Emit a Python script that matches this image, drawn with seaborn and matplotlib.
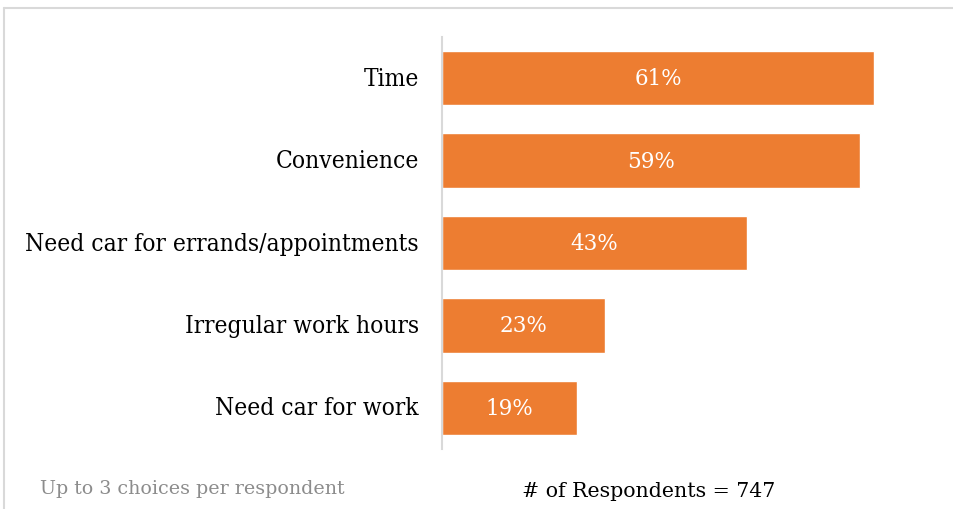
import matplotlib
matplotlib.use("Agg")
import matplotlib.pyplot as plt
import seaborn as sns
import pandas as pd
from matplotlib.lines import Line2D

reasons = ["Time", "Convenience", "Need car for errands/appointments",
           "Irregular work hours", "Need car for work"]
shares = [61, 59, 43, 23, 19]
bar_labels = ["61%", "59%", "43%", "23%", "19%"]

df = pd.DataFrame({"reason": reasons, "share": shares})

sns.set_theme(style="white")
plt.rcParams["font.family"] = ["DejaVu Serif", "DejaVu Sans"]

fig = plt.figure(figsize=(9.54, 5.10), dpi=100)
ax = fig.add_axes([0.4633, 0.1176, 0.5367, 0.8078])

sns.barplot(data=df, y="reason", x="share", color="#ED7D31", saturation=1,
            width=0.66, ax=ax, orient="h")

ax.set_xlim(0, 72.3)
ax.set_ylim(4.5, -0.5)
ax.set_xlabel("")
ax.set_ylabel("")
ax.set_xticks([])
ax.tick_params(axis="y", length=0, pad=16.5, labelsize=17.6, labelcolor="black")
for lbl in ax.get_yticklabels():
    lbl.set_fontstretch("condensed")
    lbl.set_verticalalignment("center")

for side in ["top", "right", "bottom"]:
    ax.spines[side].set_visible(False)
ax.spines["left"].set_color("#D9D9D9")
ax.spines["left"].set_linewidth(1.5)

for i, (v, t) in enumerate(zip(shares, bar_labels)):
    ax.text(v / 2, i, t, ha="center", va="center", color="white", fontsize=15.5)

# frame lines at top and left
fig.add_artist(Line2D([4 / 954, 1], [1 - 9 / 510, 1 - 9 / 510], color="#D9D9D9", lw=1.5))
fig.add_artist(Line2D([4 / 954, 4 / 954], [0, 1 - 9 / 510], color="#D9D9D9", lw=1.5))

fig.text(40 / 954, 1 - 489 / 510, "Up to 3 choices per respondent", color="#8C8C8C",
         fontsize=13.7, ha="left", va="center")
fig.text(649 / 954, 1 - 492 / 510, "# of Respondents = 747", color="black",
         fontsize=14.8, ha="center", va="center")

fig.savefig("out.png", dpi=100, facecolor="white")
